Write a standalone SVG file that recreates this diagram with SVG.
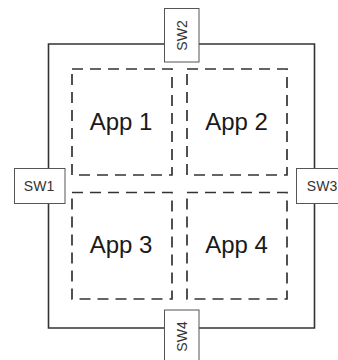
<svg xmlns="http://www.w3.org/2000/svg" width="338" height="360" viewBox="0 0 338 360">
<style>
.bg{fill:#fff}
.link{fill:none;stroke:#333;stroke-width:1.6}
.app{fill:none;stroke:#333;stroke-width:1.7;stroke-dasharray:11 7}
.sw{fill:#fff;stroke:#555;stroke-width:1}
.swt{font-family:"Liberation Sans",Arial,sans-serif;font-size:14px;fill:#333;text-anchor:middle}
.appt{font-family:"Liberation Sans",Arial,sans-serif;font-size:24px;fill:#1a1a1a;text-anchor:middle}
</style>
<rect class="bg" x="0" y="0" width="338" height="360"/>
<g id="connectors">
<path class="link" d="M48.5,168.5 V44 H164.5"/>
<path class="link" d="M199,44 H314.5 V168.5"/>
<path class="link" d="M314.5,203.5 V328 H199"/>
<path class="link" d="M164.5,328 H48.5 V203.5"/>
</g>
<g id="app1"><rect class="app" x="72" y="69" width="100" height="106"/><text class="appt" x="121" y="130">App 1</text></g>
<g id="app2"><rect class="app" x="187" y="69" width="100" height="106"/><text class="appt" x="236.5" y="130">App 2</text></g>
<g id="app3"><rect class="app" x="72" y="192.5" width="100" height="106.5"/><text class="appt" x="121" y="253">App 3</text></g>
<g id="app4"><rect class="app" x="187" y="192.5" width="100" height="106.5"/><text class="appt" x="236.5" y="253">App 4</text></g>
<g id="sw1"><rect class="sw" x="14.5" y="168.5" width="50.5" height="35"/><text class="swt" x="39" y="190.5">SW1</text></g>
<g id="sw2"><rect class="sw" x="164.5" y="8.5" width="34.5" height="53.5"/><text class="swt" transform="translate(186.5,35.5) rotate(-90)">SW2</text></g>
<g id="sw3"><rect class="sw" x="296.5" y="168.5" width="50.5" height="35"/><text class="swt" x="322" y="190.5">SW3</text></g>
<g id="sw4"><rect class="sw" x="164.5" y="310" width="34.5" height="53.5"/><text class="swt" transform="translate(186.5,336.5) rotate(-90)">SW4</text></g>
</svg>
